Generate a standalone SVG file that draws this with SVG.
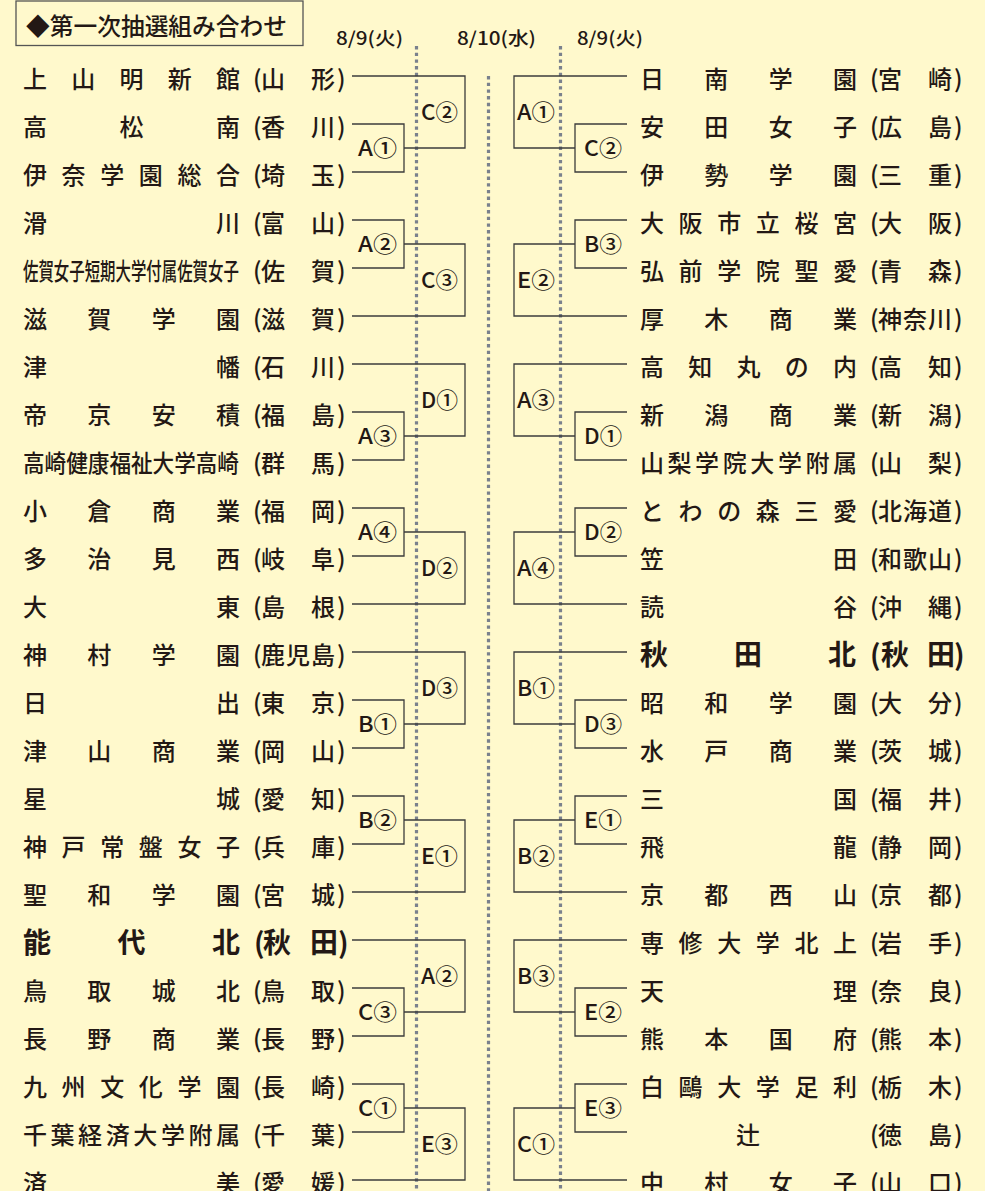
<svg xmlns="http://www.w3.org/2000/svg" width="985" height="1191" viewBox="0 0 985 1191">
<style>
.n{font-family:"Noto Sans CJK JP","Noto Sans CJK SC",sans-serif;font-size:24px;font-weight:500;fill:#231815}
.bd{font-weight:700;font-size:28px}
.lb{font-family:"Noto Sans CJK JP","Noto Sans CJK SC",sans-serif;font-size:22px;font-weight:500;fill:#231815}
.hd{font-family:"Noto Sans CJK JP","Noto Sans CJK SC",sans-serif;font-size:18px;font-weight:500;fill:#231815}
.ln{fill:none;stroke:#3c3c3c;stroke-width:1.3}
.dot{stroke:#7a818d;stroke-width:3.2;stroke-dasharray:3.4 3.3}
</style>
<rect x="0" y="0" width="985" height="1191" fill="#fff9cc"/>
<g id="title">
<rect x="16" y="1" width="287" height="44.5" fill="none" stroke="#555" stroke-width="1.3"/>
<text class="n" x="26" y="35" font-size="23" font-weight="700" textLength="261" lengthAdjust="spacingAndGlyphs">◆第一次抽選組み合わせ</text>
</g>
<g id="dates">
<text class="hd" x="336" y="45" textLength="67" lengthAdjust="spacingAndGlyphs">8/9(火)</text>
<text class="hd" x="457" y="45" textLength="79" lengthAdjust="spacingAndGlyphs">8/10(水)</text>
<text class="hd" x="577" y="45" textLength="66" lengthAdjust="spacingAndGlyphs">8/9(火)</text>
</g>
<g id="day-lines">
<line class="dot" x1="416.5" y1="46" x2="416.5" y2="1191"/>
<line class="dot" x1="488.5" y1="76" x2="488.5" y2="1191"/>
<line class="dot" x1="560.5" y1="46" x2="560.5" y2="1191"/>
</g>
<g id="connectors">
<path class="ln" d="M352 76H465V148H404M352 124H404V172H352"/>
<path class="ln" d="M352 220H404V268H352M404 244H465V316H352"/>
<path class="ln" d="M352 364H465V436H404M352 412H404V460H352"/>
<path class="ln" d="M352 508H404V556H352M404 532H465V604H352"/>
<path class="ln" d="M352 652H465V724H404M352 700H404V748H352"/>
<path class="ln" d="M352 796H404V844H352M404 820H465V892H352"/>
<path class="ln" d="M352 940H465V1012H404M352 988H404V1036H352"/>
<path class="ln" d="M352 1084H404V1132H352M404 1108H465V1180H352"/>
<path class="ln" d="M627 76H514V148H575M627 124H575V172H627"/>
<path class="ln" d="M627 220H575V268H627M575 244H514V316H627"/>
<path class="ln" d="M627 364H514V436H575M627 412H575V460H627"/>
<path class="ln" d="M627 508H575V556H627M575 532H514V604H627"/>
<path class="ln" d="M627 652H514V724H575M627 700H575V748H627"/>
<path class="ln" d="M627 796H575V844H627M575 820H514V892H627"/>
<path class="ln" d="M627 940H514V1012H575M627 988H575V1036H627"/>
<path class="ln" d="M627 1084H575V1132H627M575 1108H514V1180H627"/>
</g>
<g id="match-labels">
<text class="lb" x="358" y="156" textLength="39" lengthAdjust="spacingAndGlyphs">A①</text>
<text class="lb" x="421" y="120" textLength="37" lengthAdjust="spacingAndGlyphs">C②</text>
<text class="lb" x="358" y="252" textLength="39" lengthAdjust="spacingAndGlyphs">A②</text>
<text class="lb" x="421" y="288" textLength="37" lengthAdjust="spacingAndGlyphs">C③</text>
<text class="lb" x="358" y="444" textLength="39" lengthAdjust="spacingAndGlyphs">A③</text>
<text class="lb" x="421" y="408" textLength="37" lengthAdjust="spacingAndGlyphs">D①</text>
<text class="lb" x="358" y="540" textLength="39" lengthAdjust="spacingAndGlyphs">A④</text>
<text class="lb" x="421" y="576" textLength="37" lengthAdjust="spacingAndGlyphs">D②</text>
<text class="lb" x="358" y="732" textLength="39" lengthAdjust="spacingAndGlyphs">B①</text>
<text class="lb" x="421" y="696" textLength="37" lengthAdjust="spacingAndGlyphs">D③</text>
<text class="lb" x="358" y="828" textLength="39" lengthAdjust="spacingAndGlyphs">B②</text>
<text class="lb" x="421" y="864" textLength="37" lengthAdjust="spacingAndGlyphs">E①</text>
<text class="lb" x="358" y="1020" textLength="39" lengthAdjust="spacingAndGlyphs">C③</text>
<text class="lb" x="421" y="984" textLength="37" lengthAdjust="spacingAndGlyphs">A②</text>
<text class="lb" x="358" y="1116" textLength="39" lengthAdjust="spacingAndGlyphs">C①</text>
<text class="lb" x="421" y="1152" textLength="37" lengthAdjust="spacingAndGlyphs">E③</text>
<text class="lb" x="517" y="120" textLength="38" lengthAdjust="spacingAndGlyphs">A①</text>
<text class="lb" x="584" y="156" textLength="38" lengthAdjust="spacingAndGlyphs">C②</text>
<text class="lb" x="584" y="252" textLength="38" lengthAdjust="spacingAndGlyphs">B③</text>
<text class="lb" x="517" y="288" textLength="38" lengthAdjust="spacingAndGlyphs">E②</text>
<text class="lb" x="517" y="408" textLength="38" lengthAdjust="spacingAndGlyphs">A③</text>
<text class="lb" x="584" y="444" textLength="38" lengthAdjust="spacingAndGlyphs">D①</text>
<text class="lb" x="584" y="540" textLength="38" lengthAdjust="spacingAndGlyphs">D②</text>
<text class="lb" x="517" y="576" textLength="38" lengthAdjust="spacingAndGlyphs">A④</text>
<text class="lb" x="517" y="696" textLength="38" lengthAdjust="spacingAndGlyphs">B①</text>
<text class="lb" x="584" y="732" textLength="38" lengthAdjust="spacingAndGlyphs">D③</text>
<text class="lb" x="584" y="828" textLength="38" lengthAdjust="spacingAndGlyphs">E①</text>
<text class="lb" x="517" y="864" textLength="38" lengthAdjust="spacingAndGlyphs">B②</text>
<text class="lb" x="517" y="984" textLength="38" lengthAdjust="spacingAndGlyphs">B③</text>
<text class="lb" x="584" y="1020" textLength="38" lengthAdjust="spacingAndGlyphs">E②</text>
<text class="lb" x="584" y="1116" textLength="38" lengthAdjust="spacingAndGlyphs">E③</text>
<text class="lb" x="517" y="1152" textLength="38" lengthAdjust="spacingAndGlyphs">C①</text>
</g>
<g id="L1"><text class="n" x="23 71.25 119.5 167.75 216 253 261 311 337" y="88">上山明新館(山形)</text></g>
<g id="L2"><text class="n" x="23 119.5 216 253 261 311 337" y="136">高松南(香川)</text></g>
<g id="L3"><text class="n" x="23 61.6 100.2 138.8 177.4 216 253 261 311 337" y="184">伊奈学園総合(埼玉)</text></g>
<g id="L4"><text class="n" x="23 216 253 261 311 337" y="232">滑川(富山)</text></g>
<g id="L5"><text class="n" transform="translate(23 280) scale(0.643 1)" x="0" y="0">佐賀女子短期大学付属佐賀女子</text><text class="n" x="253 261 311 337" y="280">(佐賀)</text></g>
<g id="L6"><text class="n" x="23 87.3 151.7 216 253 261 311 337" y="328">滋賀学園(滋賀)</text></g>
<g id="L7"><text class="n" x="23 216 253 261 311 337" y="376">津幡(石川)</text></g>
<g id="L8"><text class="n" x="23 87.3 151.7 216 253 261 311 337" y="424">帝京安積(福島)</text></g>
<g id="L9"><text class="n" transform="translate(23 472) scale(0.9 1)" x="0" y="0">高崎健康福祉大学高崎</text><text class="n" x="253 261 311 337" y="472">(群馬)</text></g>
<g id="L10"><text class="n" x="23 87.3 151.7 216 253 261 311 337" y="520">小倉商業(福岡)</text></g>
<g id="L11"><text class="n" x="23 87.3 151.7 216 253 261 311 337" y="568">多治見西(岐阜)</text></g>
<g id="L12"><text class="n" x="23 216 253 261 311 337" y="616">大東(島根)</text></g>
<g id="L13"><text class="n" x="23 87.3 151.7 216 253 261 286 311 337" y="664">神村学園(鹿児島)</text></g>
<g id="L14"><text class="n" x="23 216 253 261 311 337" y="712">日出(東京)</text></g>
<g id="L15"><text class="n" x="23 87.3 151.7 216 253 261 311 337" y="760">津山商業(岡山)</text></g>
<g id="L16"><text class="n" x="23 216 253 261 311 337" y="808">星城(愛知)</text></g>
<g id="L17"><text class="n" x="23 61.6 100.2 138.8 177.4 216 253 261 311 337" y="856">神戸常盤女子(兵庫)</text></g>
<g id="L18"><text class="n" x="23 87.3 151.7 216 253 261 311 337" y="904">聖和学園(宮城)</text></g>
<g id="L19"><text class="n bd" x="23 117.5 212 254 263 310 338" y="953">能代北(秋田)</text></g>
<g id="L20"><text class="n" x="23 87.3 151.7 216 253 261 311 337" y="1000">鳥取城北(鳥取)</text></g>
<g id="L21"><text class="n" x="23 87.3 151.7 216 253 261 311 337" y="1048">長野商業(長野)</text></g>
<g id="L22"><text class="n" x="23 61.6 100.2 138.8 177.4 216 253 261 311 337" y="1096">九州文化学園(長崎)</text></g>
<g id="L23"><text class="n" x="23 50.6 78.1 105.7 133.3 160.9 188.4 216 253 261 311 337" y="1144">千葉経済大学附属(千葉)</text></g>
<g id="L24"><text class="n" x="23 216 253 261 311 337" y="1192">済美(愛媛)</text></g>
<g id="R1"><text class="n" x="640 704.3 768.7 833 870 878 928 954" y="88">日南学園(宮崎)</text></g>
<g id="R2"><text class="n" x="640 704.3 768.7 833 870 878 928 954" y="136">安田女子(広島)</text></g>
<g id="R3"><text class="n" x="640 704.3 768.7 833 870 878 928 954" y="184">伊勢学園(三重)</text></g>
<g id="R4"><text class="n" x="640 678.6 717.2 755.8 794.4 833 870 878 928 954" y="232">大阪市立桜宮(大阪)</text></g>
<g id="R5"><text class="n" x="640 678.6 717.2 755.8 794.4 833 870 878 928 954" y="280">弘前学院聖愛(青森)</text></g>
<g id="R6"><text class="n" x="640 704.3 768.7 833 870 878 903 928 954" y="328">厚木商業(神奈川)</text></g>
<g id="R7"><text class="n" x="640 688.25 736.5 784.75 833 870 878 928 954" y="376">高知丸の内(高知)</text></g>
<g id="R8"><text class="n" x="640 704.3 768.7 833 870 878 928 954" y="424">新潟商業(新潟)</text></g>
<g id="R9"><text class="n" x="640 667.6 695.1 722.7 750.3 777.9 805.4 833 870 878 928 954" y="472">山梨学院大学附属(山梨)</text></g>
<g id="R10"><text class="n" x="640 678.6 717.2 755.8 794.4 833 870 878 903 928 954" y="520">とわの森三愛(北海道)</text></g>
<g id="R11"><text class="n" x="640 833 870 878 903 928 954" y="568">笠田(和歌山)</text></g>
<g id="R12"><text class="n" x="640 833 870 878 928 954" y="616">読谷(沖縄)</text></g>
<g id="R13"><text class="n bd" x="640 734 828 870 881 927 954" y="665">秋田北(秋田)</text></g>
<g id="R14"><text class="n" x="640 704.3 768.7 833 870 878 928 954" y="712">昭和学園(大分)</text></g>
<g id="R15"><text class="n" x="640 704.3 768.7 833 870 878 928 954" y="760">水戸商業(茨城)</text></g>
<g id="R16"><text class="n" x="640 833 870 878 928 954" y="808">三国(福井)</text></g>
<g id="R17"><text class="n" x="640 833 870 878 928 954" y="856">飛龍(静岡)</text></g>
<g id="R18"><text class="n" x="640 704.3 768.7 833 870 878 928 954" y="904">京都西山(京都)</text></g>
<g id="R19"><text class="n" x="640 678.6 717.2 755.8 794.4 833 870 878 928 954" y="952">専修大学北上(岩手)</text></g>
<g id="R20"><text class="n" x="640 833 870 878 928 954" y="1000">天理(奈良)</text></g>
<g id="R21"><text class="n" x="640 704.3 768.7 833 870 878 928 954" y="1048">熊本国府(熊本)</text></g>
<g id="R22"><text class="n" x="640 678.6 717.2 755.8 794.4 833 870 878 928 954" y="1096">白鷗大学足利(栃木)</text></g>
<g id="R23"><text class="n" x="736 870 878 928 954" y="1144">辻(徳島)</text></g>
<g id="R24"><text class="n" x="640 704.3 768.7 833 870 878 928 954" y="1192">中村女子(山口)</text></g>
</svg>
